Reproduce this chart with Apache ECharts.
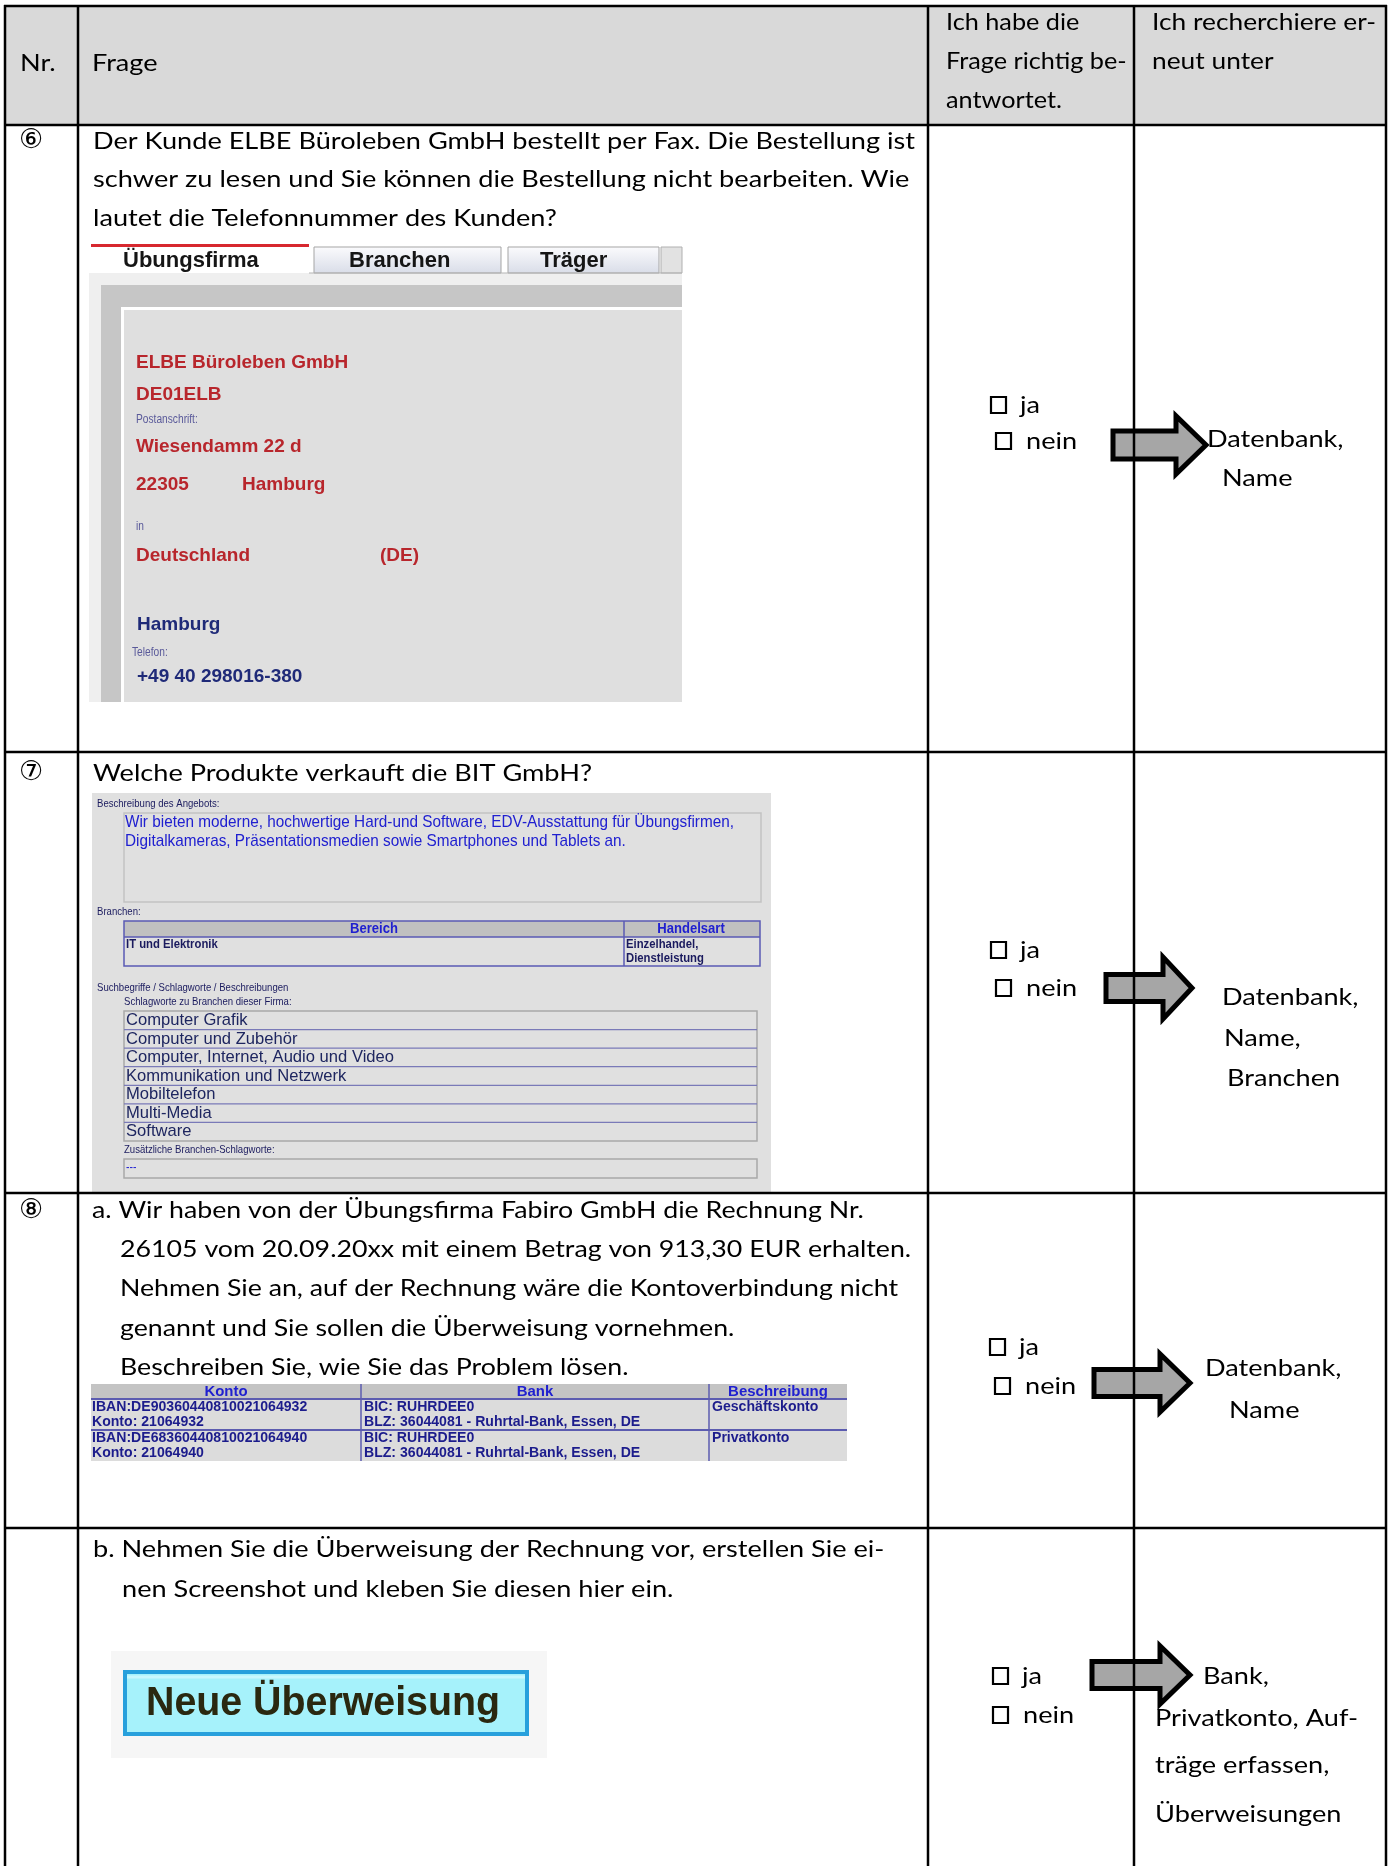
<!DOCTYPE html>
<html><head><meta charset="utf-8">
<script src="https://cdn.jsdelivr.net/npm/echarts@6/dist/echarts.min.js"></script>
<style>html,body{margin:0;padding:0;background:#fff}#c{width:1391px;height:1866px}</style>
</head><body><div id="c"></div>
<script>
// ---------- data ----------
const headerNr = 'Nr.';
const headerFrage = 'Frage';
const headerCheck = ['Ich habe die', 'Frage richtig be-', 'antwortet.'];
const headerSearch = ['Ich recherchiere er-', 'neut unter'];
const rowNumbers = ['⑥', '⑦', '⑧', ''];
const q6Lines = ['Der Kunde ELBE Büroleben GmbH bestellt per Fax. Die Bestellung ist',
  'schwer zu lesen und Sie können die Bestellung nicht bearbeiten. Wie',
  'lautet die Telefonnummer des Kunden?'];
const q7Lines = ['Welche Produkte verkauft die BIT GmbH?'];
const q8aLines = ['a. Wir haben von der Übungsfirma Fabiro GmbH die Rechnung Nr.',
  '26105 vom 20.09.20xx mit einem Betrag von 913,30 EUR erhalten.',
  'Nehmen Sie an, auf der Rechnung wäre die Kontoverbindung nicht',
  'genannt und Sie sollen die Überweisung vornehmen.',
  'Beschreiben Sie, wie Sie das Problem lösen.'];
const q8bLines = ['b. Nehmen Sie die Überweisung der Rechnung vor, erstellen Sie ei-',
  'nen Screenshot und kleben Sie diesen hier ein.'];
const checkLabels = ['ja', 'nein'];
const searchTargets = [['Datenbank,', 'Name'], ['Datenbank,', 'Name,', 'Branchen'],
  ['Datenbank,', 'Name'], ['Bank,', 'Privatkonto, Auf-', 'träge erfassen,', 'Überweisungen']];
const elbeTabs = ['Übungsfirma', 'Branchen', 'Träger'];
const elbeName = ['ELBE Büroleben GmbH', 'DE01ELB'];
const elbeLabels = ['Postanschrift:', 'in', 'Telefon:'];
const elbeStreet = 'Wiesendamm 22 d';
const elbeCity = ['22305', 'Hamburg'];
const elbeCountry = ['Deutschland', '(DE)'];
const elbeRegion = 'Hamburg';
const elbePhone = '+49 40 298016-380';
const bitLabels = ['Beschreibung des Angebots:', 'Branchen:', 'Suchbegriffe / Schlagworte / Beschreibungen',
  'Schlagworte zu Branchen dieser Firma:', 'Zusätzliche Branchen-Schlagworte:'];
const bitDescription = ['Wir bieten moderne, hochwertige Hard-und Software, EDV-Ausstattung für Übungsfirmen,',
  'Digitalkameras, Präsentationsmedien sowie Smartphones und Tablets an.'];
const bitBranchenHeader = ['Bereich', 'Handelsart'];
const bitBranchenRow = ['IT und Elektronik', 'Einzelhandel,', 'Dienstleistung'];
const bitKeywords = ['Computer Grafik', 'Computer und Zubehör', 'Computer, Internet, Audio und Video',
  'Kommunikation und Netzwerk', 'Mobiltelefon', 'Multi-Media', 'Software'];
const bitExtra = '---';
const bankHeader = ['Konto', 'Bank', 'Beschreibung'];
const bankRows = [
  ['IBAN:DE90360440810021064932', 'Konto: 21064932', 'BIC: RUHRDEE0', 'BLZ: 36044081 - Ruhrtal-Bank, Essen, DE', 'Geschäftskonto'],
  ['IBAN:DE68360440810021064940', 'Konto: 21064940', 'BIC: RUHRDEE0', 'BLZ: 36044081 - Ruhrtal-Bank, Essen, DE', 'Privatkonto']];
const buttonLabel = 'Neue Überweisung';

// ---------- layout helpers ----------
const mc = document.createElement('canvas').getContext('2d');
function fitScale(font, s, w) { mc.font = font; return w / mc.measureText(s).width; }
const BODY = '24px Lato, "DejaVu Sans"';
const BSX = fitScale(BODY, q6Lines[0], 822);
const AR = '"Liberation Sans", Arial';

const els = [];
function txt(s, x, y, o) {
  o = o || {};
  els.push({type: 'text', x: x, y: y, scaleX: o.sx || 1, scaleY: o.sy || 1, z: o.z || 20, silent: true,
    style: {text: s, x: 0, y: 0, fill: o.fill || '#000', font: o.font || BODY,
      textAlign: o.align || 'left', align: o.align || 'left',
      textVerticalAlign: 'middle', verticalAlign: 'middle'}});
}
function body(s, x, y, k) { txt(s, x, y, {sx: BSX * (k || 1)}); }
function rect(x, y, w, h, fill, stroke, lw, z) {
  els.push({type: 'rect', z: z || 5, silent: true, shape: {x: x, y: y, width: w, height: h},
    style: {fill: fill || 'none', stroke: stroke || null, lineWidth: lw || 0}});
}
function hline(x1, x2, y, c, lw, z) {
  els.push({type: 'line', z: z || 6, silent: true, shape: {x1: x1, y1: y, x2: x2, y2: y}, style: {stroke: c, lineWidth: lw}});
}
function vline(x, y1, y2, c, lw, z) {
  els.push({type: 'line', z: z || 6, silent: true, shape: {x1: x, y1: y1, x2: x, y2: y2}, style: {stroke: c, lineWidth: lw}});
}
function arrow(x0, xm, x1, cy, sh, hh) {
  els.push({type: 'polygon', z: 30, silent: true, shape: {points: [
    [x0, cy - sh / 2], [xm, cy - sh / 2], [xm, cy - hh / 2], [x1, cy], [xm, cy + hh / 2], [xm, cy + sh / 2], [x0, cy + sh / 2]]},
    style: {fill: '#a6a6a6', stroke: '#000', lineWidth: 5, lineJoin: 'miter'}});
}

// ---------- table grid ----------
const XL = 5, X1 = 78, X2 = 928, X3 = 1134, XR = 1386;
const YT = 6, YH = 125, Y6 = 752, Y7 = 1193, Y8 = 1528, YB = 1866;
rect(XL, YT, XR - XL, YH - YT, '#d9d9d9', null, 0, 1);
[XL, X1, X2, X3, XR].forEach(x => vline(x, YT - 1, YB, '#000', 2.5, 40));
[YT, YH, Y6, Y7, Y8].forEach(y => hline(XL - 1, XR + 1, y, '#000', 2.5, 40));

// header
body(headerNr, 20, 63);
body(headerFrage, 92, 63);
headerCheck.forEach((s, i) => body(s, 946, 22 + 39 * i, 0.93));
headerSearch.forEach((s, i) => body(s, 1152, 22 + 39 * i, 0.97));

// row numbers
[141, 773, 1211].forEach((y, i) => txt(rowNumbers[i], 19, y, {font: '27px "DejaVu Sans"'}));

// questions
q6Lines.forEach((s, i) => body(s, 93, 141 + 38.5 * i));
q7Lines.forEach((s) => body(s, 93, 773));
q8aLines.forEach((s, i) => body(s, i === 0 ? 92 : 120, 1210 + 39.3 * i, 0.985));
q8bLines.forEach((s, i) => body(s, i === 0 ? 93 : 122, 1549 + 40 * i));

// check boxes (ja / nein), arrows and search targets
const checkPos = [[991, 405, 996, 441], [991, 950, 996, 988], [990, 1347, 995, 1386], [993, 1676, 993, 1715]];
checkPos.forEach(p => {
  rect(p[0], p[1] - 8, 15, 16, '#fff', '#000', 2.2, 25);
  body(checkLabels[0], p[0] + 29, p[1]);
  rect(p[2], p[3] - 8, 15, 16, '#fff', '#000', 2.2, 25);
  body(checkLabels[1], p[2] + 30, p[3]);
});
arrow(1113, 1176, 1206, 445, 28, 58);
arrow(1106, 1163, 1192, 988, 27, 62);
arrow(1094, 1160, 1190, 1383, 27, 58);
arrow(1092, 1160, 1190, 1675, 27, 58);
const targetPos = [
  [[1207, 439], [1222, 478]],
  [[1222, 997], [1224, 1038], [1227, 1078]],
  [[1205, 1368], [1229, 1410]],
  [[1203, 1676], [1155, 1718], [1155, 1765], [1155, 1814]]];
searchTargets.forEach((arr, r) => arr.forEach((s, i) => body(s, targetPos[r][i][0], targetPos[r][i][1])));

// ---------- screenshot 1: ELBE ----------
rect(89, 244, 593, 458, '#efefef', null, 0, 2);
rect(89, 244, 593, 29, '#ffffff', null, 0, 3);
rect(91, 244, 218, 29, '#ffffff', null, 0, 4);
rect(91, 244, 218, 3, '#d7282f', null, 0, 5);
[[314, 187], [508, 151]].forEach(t => {
  els.push({type: 'rect', z: 4, silent: true, shape: {x: t[0], y: 247, width: t[1], height: 26},
    style: {fill: new echarts.graphic.LinearGradient(0, 0, 0, 1, [{offset: 0, color: '#fbfbfd'}, {offset: 1, color: '#d9dde8'}]),
      stroke: '#a5a5a5', lineWidth: 1}});
});
rect(661, 247, 21, 26, '#e2e2e2', '#b0b0b0', 1, 4);
hline(309, 682, 273, '#b5b5b5', 1, 5);
const TF = 'bold 22px ' + AR;
txt(elbeTabs[0], 123, 261, {font: TF, fill: '#151515'});
txt(elbeTabs[1], 349, 261, {font: TF, fill: '#151515'});
txt(elbeTabs[2], 540, 261, {font: TF, fill: '#151515'});
rect(101, 285, 581, 417, '#c6c6c6', null, 0, 3);
rect(121, 307, 561, 395, '#ffffff', null, 0, 4);
rect(124, 310, 558, 392, '#dfdfdf', null, 0, 5);
const RED = '#b8262c', NAVY = '#1f2a78', SMALL = '#5a5a9a';
const BF = 'bold 19px ' + AR, SF = '12px ' + AR;
txt(elbeName[0], 136, 363, {font: BF, fill: RED});
txt(elbeName[1], 136, 395, {font: BF, fill: RED});
txt(elbeLabels[0], 136, 420, {font: SF, fill: SMALL, sx: 0.85});
txt(elbeStreet, 136, 447, {font: BF, fill: RED});
txt(elbeCity[0], 136, 485, {font: BF, fill: RED});
txt(elbeCity[1], 242, 485, {font: BF, fill: RED});
txt(elbeLabels[1], 136, 527, {font: SF, fill: SMALL, sx: 0.85});
txt(elbeCountry[0], 136, 556, {font: BF, fill: RED});
txt(elbeCountry[1], 380, 556, {font: BF, fill: RED});
txt(elbeRegion, 137, 625, {font: BF, fill: NAVY});
txt(elbeLabels[2], 132, 653, {font: SF, fill: SMALL, sx: 0.85});
txt(elbePhone, 137, 677, {font: BF, fill: NAVY});

// ---------- screenshot 2: BIT ----------
const SX2 = 0.87, DB = '#1a1a5e', BLUE = '#2020d0';
rect(92, 793, 679, 399, '#e0e0e0', null, 0, 2);
txt(bitLabels[0], 97, 804, {font: '11px ' + AR, fill: DB, sx: SX2});
rect(124, 813, 637, 89, '#e0e0e0', '#c2c2c2', 1.5, 3);
const DF = '17px ' + AR, DSX = fitScale(DF, bitDescription[0], 609);
bitDescription.forEach((s, i) => txt(s, 125, 822 + 19 * i, {font: DF, fill: BLUE, sx: DSX}));
txt(bitLabels[1], 97, 912, {font: '11px ' + AR, fill: DB, sx: SX2});
rect(124, 921, 636, 16, '#c0c0c0', null, 0, 3);
rect(124, 921, 636, 45, 'none', '#5a5ab4', 1.5, 6);
hline(124, 760, 937, '#5a5ab4', 1.5, 6);
vline(624, 921, 966, '#5a5ab4', 1.5, 6);
txt(bitBranchenHeader[0], 374, 929, {font: 'bold 15px ' + AR, fill: BLUE, align: 'center', sx: SX2});
txt(bitBranchenHeader[1], 691, 929, {font: 'bold 15px ' + AR, fill: BLUE, align: 'center', sx: SX2});
txt(bitBranchenRow[0], 126, 944, {font: 'bold 13px ' + AR, fill: DB, sx: SX2});
txt(bitBranchenRow[1], 626, 944, {font: 'bold 13px ' + AR, fill: DB, sx: SX2});
txt(bitBranchenRow[2], 626, 958, {font: 'bold 13px ' + AR, fill: DB, sx: SX2});
txt(bitLabels[2], 97, 988, {font: '11px ' + AR, fill: DB, sx: SX2});
txt(bitLabels[3], 124, 1002, {font: '11px ' + AR, fill: DB, sx: SX2});
const KH = 130 / bitKeywords.length;
const KF = '17px ' + AR, KSX = fitScale(KF, bitKeywords[2], 268);
rect(124, 1011, 633, 130, 'none', '#a8a8a8', 1.5, 6);
bitKeywords.forEach((s, i) => {
  if (i > 0) hline(124, 757, 1011 + KH * i, '#7a7ab8', 1.2, 6);
  txt(s, 126, 1011 + KH * (i + 0.5), {font: KF, fill: '#1e2660', sx: KSX});
});
txt(bitLabels[4], 124, 1150, {font: '11px ' + AR, fill: DB, sx: SX2});
rect(124, 1159, 633, 19, 'none', '#a8a8a8', 1.5, 6);
txt(bitExtra, 126, 1168, {font: '12px ' + AR, fill: BLUE, sx: SX2});

// ---------- bank table ----------
const BT = 1384, BH = 1399, BM = 1430, BB = 1461;
rect(91, BT, 756, BB - BT, '#dcdcdc', null, 0, 2);
rect(91, BT, 756, BH - BT, '#c4c4c4', null, 0, 3);
hline(91, 847, BH, '#5c5cb0', 2, 6);
hline(91, 847, BM, '#5c5cb0', 2, 6);
vline(361, BT, BB, '#5c5cb0', 1.5, 6);
vline(709, BT, BB, '#5c5cb0', 1.5, 6);
const BHF = 'bold 17px ' + AR, BRF = 'bold 16px ' + AR, SY = 0.86;
txt(bankHeader[0], 226, BT + 8, {font: BHF, fill: BLUE, align: 'center', sx: 0.88, sy: SY});
txt(bankHeader[1], 535, BT + 8, {font: BHF, fill: BLUE, align: 'center', sx: 0.88, sy: SY});
txt(bankHeader[2], 778, BT + 8, {font: BHF, fill: BLUE, align: 'center', sx: 0.88, sy: SY});
bankRows.forEach((r, i) => {
  const y0 = BH + 8 + 31 * i;
  const o = {font: BRF, fill: '#1c1c8c', sx: 0.88, sy: SY};
  txt(r[0], 92, y0, o);
  txt(r[1], 92, y0 + 15, o);
  txt(r[2], 364, y0, o);
  txt(r[3], 364, y0 + 15, o);
  txt(r[4], 712, y0, o);
});

// ---------- button screenshot ----------
rect(111, 1651, 436, 107, '#f6f6f6', null, 0, 2);
rect(125, 1672, 402, 62, '#a6f2fb', '#27a0dc', 4, 3);
hline(127, 525, 1677, '#c9f8fd', 3, 4);
const NF = 'bold 40px ' + AR;
txt(buttonLabel, 146, 1704, {font: NF, fill: '#2a2810', sx: fitScale(NF, buttonLabel, 354)});

const chart = echarts.init(document.getElementById('c'), null, {renderer: 'canvas'});
chart.setOption({animation: false, backgroundColor: '#ffffff', graphic: {elements: els}});
</script>
</body></html>
